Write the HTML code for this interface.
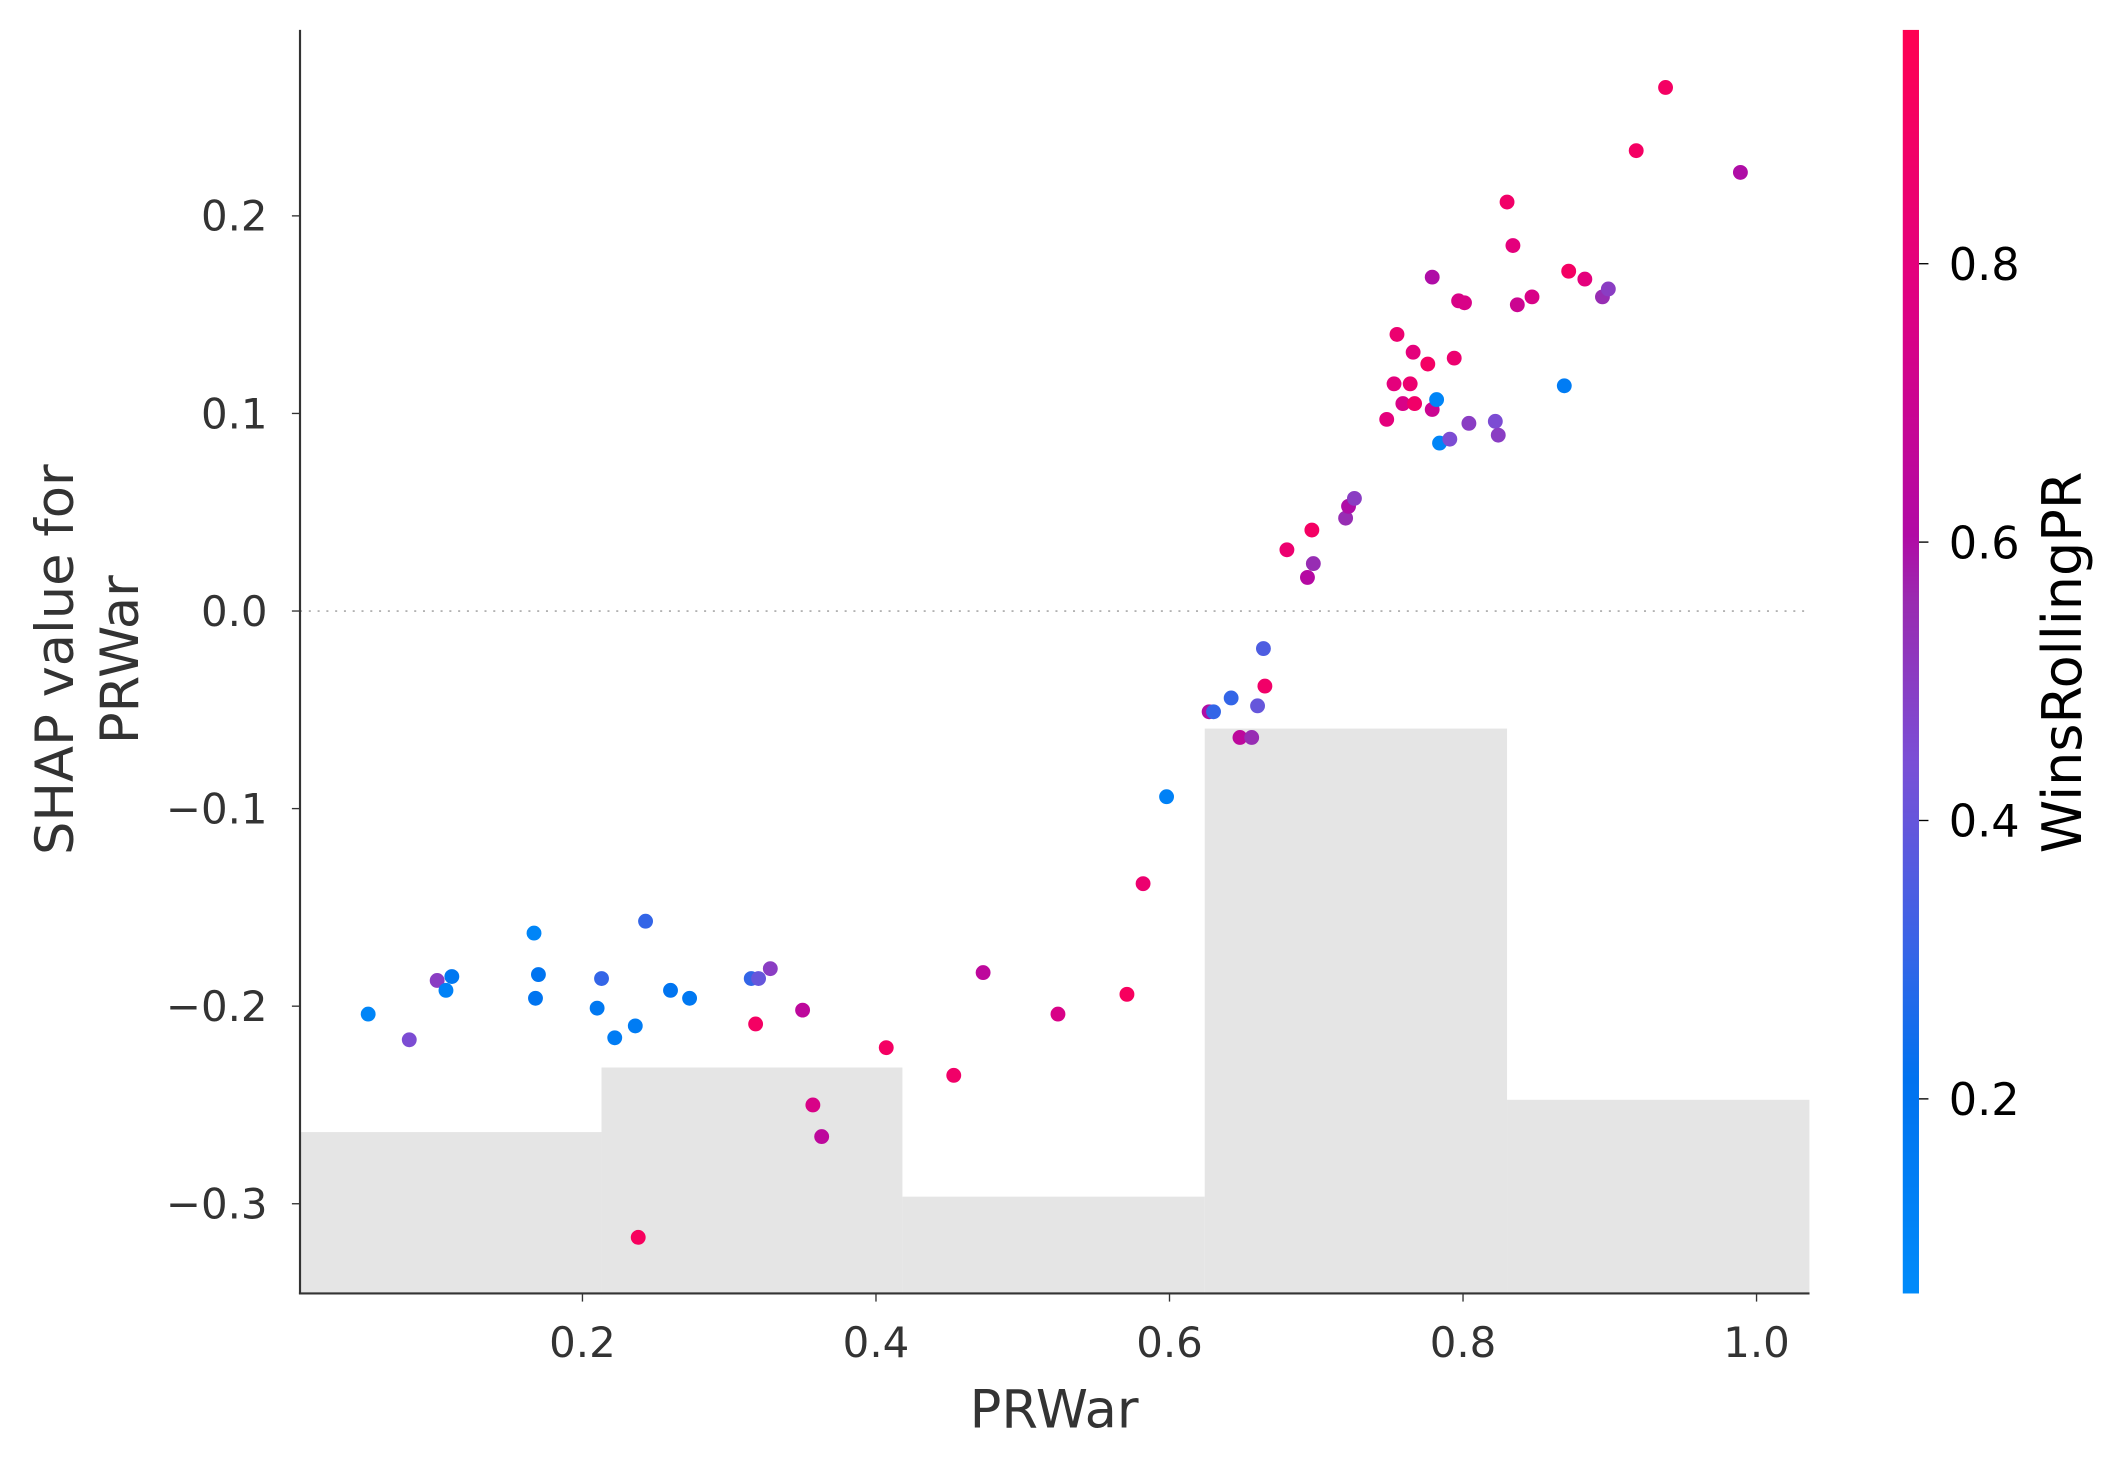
<!DOCTYPE html>
<html><head><meta charset="utf-8"><style>
html,body{margin:0;padding:0;background:#fff;}
svg{display:block;}
text{font-family:"DejaVu Sans","Liberation Sans",sans-serif;}
</style></head>
<body>
<svg id="chart" width="2119" height="1468" viewBox="0 0 1568 1086" xmlns="http://www.w3.org/2000/svg">
<defs>
<linearGradient id="cbgrad" x1="0" y1="1" x2="0" y2="0">
<stop offset="0" stop-color="#008bfa"/>
<stop offset="0.17" stop-color="#0072ef"/>
<stop offset="0.28" stop-color="#3b63e6"/>
<stop offset="0.42" stop-color="#7a4fd6"/>
<stop offset="0.55" stop-color="#9a2ab0"/>
<stop offset="0.6" stop-color="#b10aa5"/>
<stop offset="0.8" stop-color="#e2007f"/>
<stop offset="1" stop-color="#ff0052"/>
</linearGradient>
</defs>
<g id="hist"></g>
<line x1="222" y1="452" x2="1339" y2="452" stroke="#999" stroke-width="1" stroke-dasharray="1.5,5"/>
<g id="pts"></g>
<g id="axes"></g>
<text x="780" y="1056" font-size="39" fill="#333" text-anchor="middle">PRWar</text>
<text transform="translate(54,488) rotate(-90)" font-size="39" fill="#333" text-anchor="middle">SHAP value for</text>
<text transform="translate(102,488) rotate(-90)" font-size="39" fill="#333" text-anchor="middle">PRWar</text>
<rect x="1408" y="22" width="12" height="935" fill="url(#cbgrad)"/>
<g id="cbaxis"></g>
<text transform="translate(1540,490) rotate(-90)" font-size="40" fill="#000" text-anchor="middle">WinsRollingPR</text>
</svg>
<script>
const xVals=[0.054,0.082,0.101,0.107,0.111,0.167,0.170,0.168,0.213,0.210,0.222,0.236,0.243,0.260,0.273,0.315,0.320,0.328,0.318,0.350,0.357,0.363,0.238,0.407,0.453,0.473,0.524,0.571,0.582,0.598,0.627,0.630,0.642,0.648,0.656,0.660,0.664,0.665,0.680,0.697,0.694,0.698,0.720,0.722,0.726,0.748,0.755,0.753,0.759,0.764,0.766,0.767,0.776,0.779,0.779,0.782,0.784,0.791,0.794,0.797,0.801,0.804,0.822,0.824,0.830,0.834,0.837,0.847,0.869,0.872,0.883,0.895,0.899,0.938,0.918,0.989];
const shapVals=[-0.204,-0.217,-0.187,-0.192,-0.185,-0.163,-0.184,-0.196,-0.186,-0.201,-0.216,-0.210,-0.157,-0.192,-0.196,-0.186,-0.186,-0.181,-0.209,-0.202,-0.250,-0.266,-0.317,-0.221,-0.235,-0.183,-0.204,-0.194,-0.138,-0.094,-0.051,-0.051,-0.044,-0.064,-0.064,-0.048,-0.019,-0.038,0.031,0.041,0.017,0.024,0.047,0.053,0.057,0.097,0.140,0.115,0.105,0.115,0.131,0.105,0.125,0.169,0.102,0.107,0.085,0.087,0.128,0.157,0.156,0.095,0.096,0.089,0.207,0.185,0.155,0.159,0.114,0.172,0.168,0.159,0.163,0.265,0.233,0.222];
const colorVals=[0.1,0.45,0.5,0.12,0.18,0.1,0.2,0.2,0.3,0.18,0.15,0.15,0.3,0.2,0.18,0.3,0.4,0.5,0.9,0.65,0.75,0.65,0.92,0.9,0.88,0.65,0.75,0.92,0.85,0.12,0.6,0.3,0.3,0.65,0.55,0.4,0.35,0.88,0.85,0.9,0.62,0.55,0.55,0.6,0.5,0.8,0.85,0.8,0.75,0.85,0.8,0.88,0.9,0.6,0.7,0.1,0.1,0.45,0.85,0.75,0.75,0.5,0.45,0.5,0.88,0.8,0.7,0.75,0.15,0.9,0.8,0.55,0.5,0.9,0.9,0.6];
const histEdges=[0.0077,0.213,0.418,0.624,0.830,1.036];
const histCounts=[10,14,6,35,12];
const xTicks=[0.2,0.4,0.6,0.8,1.0];
const yTicks=[0.2,0.1,0.0,-0.1,-0.2,-0.3];
const cbTicks=[0.2,0.4,0.6,0.8];

const NS="http://www.w3.org/2000/svg";
const X=v=>213.8+1086*v;
const Y=v=>452-1462*v;
const HY=c=>957-c*(418/35);
const CB=v=>195+(0.8-v)*1030;
function mk(tag,attrs,parent){const e=document.createElementNS(NS,tag);for(const k in attrs)e.setAttribute(k,attrs[k]);parent.appendChild(e);return e;}
const stops=[[0,[0,139,250]],[0.17,[0,114,239]],[0.28,[59,99,230]],[0.42,[122,79,214]],[0.55,[154,42,176]],[0.6,[177,10,165]],[0.8,[226,0,127]],[1,[255,0,82]]];
function col(v){let t=(v-0.06)/0.908;t=Math.max(0,Math.min(1,t));
for(let i=1;i<stops.length;i++){if(t<=stops[i][0]){const a=stops[i-1],b=stops[i];const f=(t-a[0])/(b[0]-a[0]);
return 'rgb('+a[1].map((c,j)=>Math.round(c+(b[1][j]-c)*f)).join(',')+')';}}return 'rgb(255,0,82)';}

const hist=document.getElementById('hist');
histCounts.forEach((c,i)=>{
const r=mk('rect',{x:X(histEdges[i]),y:HY(c),width:X(histEdges[i+1])-X(histEdges[i]),height:957-HY(c),fill:'#e5e5e5'},hist);


});
const pts=document.getElementById('pts');
xVals.forEach((x,i)=>{
const c=mk('circle',{cx:X(x),cy:Y(shapVals[i]),r:5.5,fill:col(colorVals[i])},pts);


});
const ax=document.getElementById('axes');
const ls=mk('line',{x1:222,y1:22,x2:222,y2:957.5,stroke:'#333','stroke-width':1.6},ax);


const bs=mk('line',{x1:221.2,y1:957,x2:1339,y2:957,stroke:'#333','stroke-width':1.6},ax);


xTicks.forEach(v=>{
mk('line',{x1:X(v),y1:957,x2:X(v),y2:963,stroke:'#333','stroke-width':1},ax);
const t=mk('text',{x:X(v),y:1004,'font-size':31,fill:'#333','text-anchor':'middle'},ax);
t.textContent=v.toFixed(1);


});
yTicks.forEach(v=>{
mk('line',{x1:216,y1:Y(v),x2:222,y2:Y(v),stroke:'#333','stroke-width':1},ax);
const t=mk('text',{x:198,y:Y(v)+11,'font-size':31,fill:'#333','text-anchor':'end'},ax);
t.textContent=(v<0?'\u2212':'')+Math.abs(v).toFixed(1);


});
const cb=document.getElementById('cbaxis');
cbTicks.forEach(v=>{
mk('line',{x1:1420,y1:CB(v),x2:1427,y2:CB(v),stroke:'#000','stroke-width':1},cb);
const t=mk('text',{x:1442,y:CB(v)+12,'font-size':33,fill:'#000'},cb);
t.textContent=v.toFixed(1);


});
</script>
</body></html>
